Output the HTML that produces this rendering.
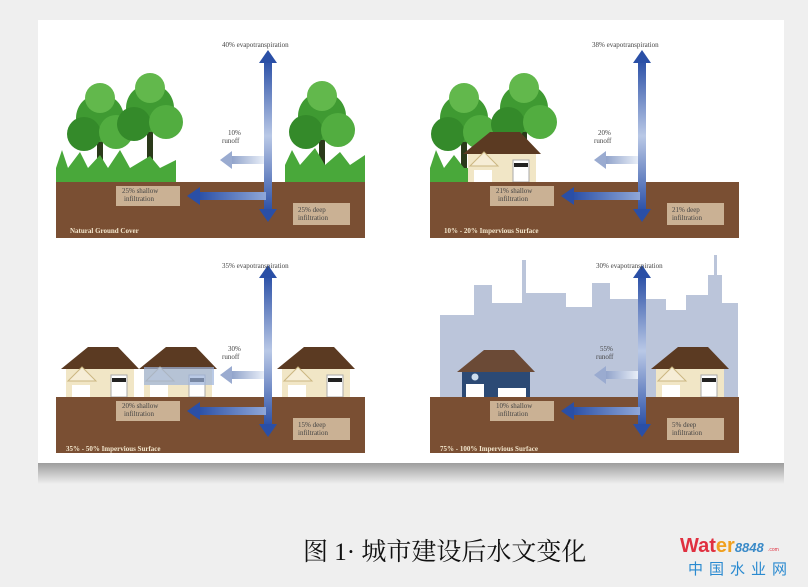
<!DOCTYPE html>
<html><head><meta charset="utf-8"><style>
body{margin:0;background:#efefef;width:808px;height:582px;overflow:hidden;font-family:"Liberation Serif",serif}
</style></head><body>
<svg width="808" height="582" viewBox="0 0 808 582" xmlns="http://www.w3.org/2000/svg">
<defs>
<linearGradient id="sh" x1="0" y1="0" x2="0" y2="1"><stop offset="0" stop-color="#999"/><stop offset="1" stop-color="#efefef"/></linearGradient>
<linearGradient id="vg" x1="0" y1="0" x2="0" y2="1"><stop offset="0" stop-color="#2a4fa6"/><stop offset="0.5" stop-color="#b9c8e6"/><stop offset="1" stop-color="#2a4fa6"/></linearGradient>
<linearGradient id="hg" x1="0" y1="0" x2="1" y2="0"><stop offset="0" stop-color="#2a4fa6"/><stop offset="1" stop-color="#8fa7d8"/></linearGradient>
<linearGradient id="rg" x1="0" y1="0" x2="1" y2="0"><stop offset="0" stop-color="#8c9fc8"/><stop offset="1" stop-color="#e8eef8"/></linearGradient>
<g id="arrows">
  <rect x="264" y="60" width="8" height="152" fill="url(#vg)"/>
  <polygon points="268,50 259,63 277,63" fill="#2a4fa6"/>
  <polygon points="268,222 259,209 277,209" fill="#2a4fa6"/>
  <rect x="198" y="192" width="68" height="8" fill="url(#hg)"/>
  <polygon points="187,196 200,187 200,205" fill="#2a4fa6"/>
  <rect x="230" y="156" width="34" height="8" fill="url(#rg)"/>
  <polygon points="220,160 232,151 232,169" fill="#9aabd0"/>
</g>
<g id="ground">
  <rect x="56" y="182" width="309" height="56" fill="#7a4f33"/>
  <rect x="116" y="186" width="64" height="20" fill="#d8c2a6" opacity=".85"/>
  <rect x="293" y="203" width="57" height="22" fill="#d8c2a6" opacity=".85"/>
</g>
<g id="house">
  <rect x="0" y="20" width="68" height="30" fill="#f1e6c6"/>
  <polygon points="-5,22 22,0 52,0 73,22" fill="#5b3a22"/>
  <polygon points="2,34 16,20 30,34" fill="#f6edd6" stroke="#cbb782"/>
  <rect x="45" y="28" width="16" height="22" fill="#fff" stroke="#aaa"/>
  <rect x="46" y="31" width="14" height="4" fill="#222"/>
  <rect x="6" y="38" width="18" height="12" fill="#fff"/>
</g>
<g id="bhouse">
  <rect x="0" y="20" width="68" height="30" fill="#2c4a75"/>
  <polygon points="-5,22 22,0 52,0 73,22" fill="#6b4a36"/>
  <rect x="4" y="34" width="18" height="16" fill="#fff"/>
  <rect x="36" y="38" width="28" height="12" fill="#fff"/>
  <circle cx="13" cy="27" r="3.5" fill="#cde"/>
</g>
<g id="tree">
  <rect x="-3" y="0" width="6" height="42" fill="#2a3a1a"/>
  <circle cx="0" cy="-12" r="24" fill="#3f9a32"/>
  <circle cx="-16" cy="4" r="17" fill="#348a2a"/>
  <circle cx="16" cy="2" r="17" fill="#52ad40"/>
  <circle cx="0" cy="-32" r="15" fill="#62b84c"/>
</g>
</defs>
<rect x="38" y="462" width="746" height="22" fill="url(#sh)"/>
<rect x="38" y="20" width="746" height="443" fill="#fff"/>

<!-- TL -->
<use href="#tree" x="100" y="130"/>
<use href="#tree" x="150" y="120"/>
<use href="#tree" x="322" y="128"/>
<polygon points="56,184 56,168 62,150 68,168 80,152 88,168 100,155 108,168 120,150 130,168 150,156 160,168 176,160 176,184" fill="#49a83a"/>
<polygon points="285,184 285,165 292,150 300,165 315,148 325,165 340,152 350,165 365,155 365,184" fill="#49a83a"/>
<use href="#ground"/>
<use href="#arrows"/>

<!-- TR -->
<g transform="translate(374,0)">
<use href="#tree" x="90" y="130"/>
<use href="#tree" x="150" y="120"/>
<polygon points="56,184 56,168 62,150 70,168 80,155 90,168 96,168 96,184" fill="#49a83a"/>
<use href="#house" x="94" y="132"/>
<use href="#ground"/>
<use href="#arrows"/>
</g>

<!-- BL -->
<g transform="translate(0,215)">
<use href="#house" x="66" y="132"/>
<use href="#house" x="144" y="132"/>
<use href="#house" x="282" y="132"/>
<use href="#ground"/>
<use href="#arrows"/>
</g>
<rect x="144" y="367" width="70" height="18" fill="#9db3dc" opacity=".7"/>

<!-- BR -->
<g transform="translate(374,215)">
<g fill="#b4bfd6" opacity=".9">
<rect x="66" y="100" width="34" height="85"/><rect x="100" y="70" width="18" height="115"/>
<rect x="118" y="88" width="30" height="97"/><rect x="148" y="45" width="4" height="140"/>
<rect x="152" y="78" width="40" height="107"/><rect x="192" y="92" width="26" height="93"/>
<rect x="218" y="68" width="18" height="117"/><rect x="236" y="84" width="56" height="101"/>
<rect x="292" y="95" width="20" height="90"/><rect x="312" y="80" width="22" height="105"/>
<rect x="334" y="60" width="14" height="125"/><rect x="340" y="40" width="3" height="30"/>
<rect x="348" y="88" width="16" height="97"/>
</g>
<use href="#bhouse" x="88" y="135"/>
<use href="#house" x="282" y="132"/>
<use href="#ground"/>
<use href="#arrows"/>
</g>

<g font-size="7" fill="#444">
<text x="222" y="47">40% evapotranspiration</text>
<text x="228" y="135">10%</text><text x="222" y="143">runoff</text>
<text x="122" y="193">25% shallow</text><text x="124" y="201">infiltration</text>
<text x="298" y="212">25% deep</text><text x="298" y="220">infiltration</text>
<text x="70" y="233" fill="#f3e6cc" font-weight="bold">Natural Ground Cover</text>
<text x="592" y="47">38% evapotranspiration</text>
<text x="598" y="135">20%</text><text x="594" y="143">runoff</text>
<text x="496" y="193">21% shallow</text><text x="498" y="201">infiltration</text>
<text x="672" y="212">21% deep</text><text x="672" y="220">infiltration</text>
<text x="444" y="233" fill="#f3e6cc" font-weight="bold">10% - 20% Impervious Surface</text>
<text x="222" y="268">35% evapotranspiration</text>
<text x="228" y="351">30%</text><text x="222" y="359">runoff</text>
<text x="122" y="408">20% shallow</text><text x="124" y="416">infiltration</text>
<text x="298" y="427">15% deep</text><text x="298" y="435">infiltration</text>
<text x="66" y="451" fill="#f3e6cc" font-weight="bold">35% - 50% Impervious Surface</text>
<text x="596" y="268">30% evapotranspiration</text>
<text x="600" y="351">55%</text><text x="596" y="359">runoff</text>
<text x="496" y="408">10% shallow</text><text x="498" y="416">infiltration</text>
<text x="672" y="427">5% deep</text><text x="672" y="435">infiltration</text>
<text x="440" y="451" fill="#f3e6cc" font-weight="bold">75% - 100% Impervious Surface</text>
</g>

<text x="303" y="560" font-size="25" fill="#111" font-family="'Liberation Serif','Noto Serif CJK SC',serif">图 1· 城市建设后水文变化</text>
<text x="680" y="552" font-size="20" font-weight="bold" font-family="'Liberation Sans',sans-serif" fill="#e03040">Wat<tspan fill="#f0a020">er</tspan><tspan fill="#3a8ac8" font-size="13" font-style="italic">8848</tspan></text>
<text x="768" y="551" font-size="5" fill="#e03040" font-family="'Liberation Sans',sans-serif">.com</text>
<text x="688" y="574" font-size="15" fill="#2a8ad0" letter-spacing="6" font-family="'Liberation Sans','Noto Sans CJK SC',sans-serif">中国水业网</text>
</svg>
</body></html>
